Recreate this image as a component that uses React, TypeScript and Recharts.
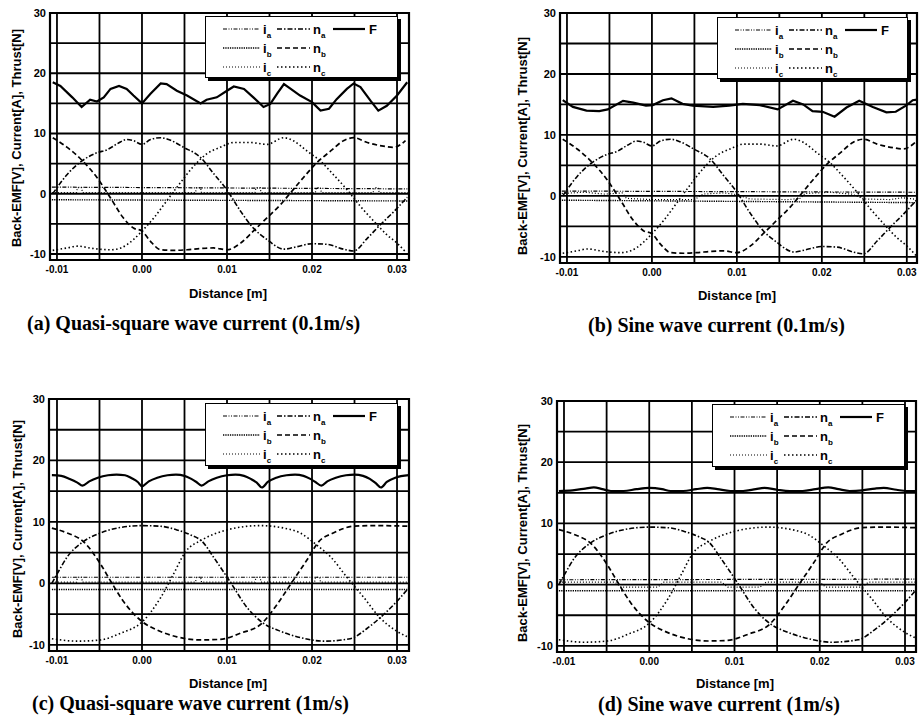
import React from 'react';
import { LineChart, Line, XAxis, YAxis, CartesianGrid, ReferenceArea } from 'recharts';

type Pt = [number, number];

const xTicks = [-0.01, -0.005, 0, 0.005, 0.01, 0.015, 0.02, 0.025, 0.03];
const yTicks = [-10, -5, 0, 5, 10, 15, 20, 25, 30];

// ---- Back-EMF at 0.1 m/s (panels a, b) ----
const naSlow: Pt[] = [[-0.0105,0],[-0.0088,3.2],[-0.0071,5.4],[-0.0053,6.8],[-0.0041,7.3],[-0.0029,8.3],[-0.0018,9.0],[-0.001,8.8],[0,8.2],[0.001,9.0],[0.0022,9.3],[0.0033,8.9],[0.0049,7.7],[0.0069,6.0],[0.0084,3.4],[0.0100,0.6],[0.0116,-2.9],[0.0131,-5.7],[0.0147,-7.6],[0.0167,-9.2],[0.0182,-8.8],[0.0200,-8.3],[0.0218,-8.4],[0.0237,-9.2],[0.0249,-9.5],[0.0265,-7.4],[0.0280,-5.2],[0.0296,-3.0],[0.0312,-0.6]];
const nbSlow: Pt[] = [[-0.0105,9.3],[-0.0088,7.7],[-0.0071,5.6],[-0.0053,2.7],[-0.0037,-0.7],[-0.0022,-4.0],[-0.001,-5.7],[0,-6.2],[0.001,-7.9],[0.0022,-9.3],[0.0037,-9.4],[0.0053,-9.3],[0.0069,-9.1],[0.0084,-9.0],[0.0100,-9.3],[0.0116,-8.2],[0.0131,-6.2],[0.0147,-4.0],[0.0163,-1.8],[0.0175,0.2],[0.0190,2.7],[0.0206,5.2],[0.0222,7.1],[0.0237,8.8],[0.0249,9.3],[0.0265,8.5],[0.0284,7.9],[0.0296,7.7],[0.0310,8.8]];
const ncSlow: Pt[] = [[-0.0105,-9.4],[-0.0088,-9.0],[-0.0076,-8.7],[-0.0057,-9.1],[-0.0037,-9.3],[-0.0025,-9.0],[-0.001,-7.6],[0,-6.2],[0.0014,-4.0],[0.0029,-1.2],[0.0045,1.8],[0.0061,4.6],[0.0076,6.6],[0.0092,7.7],[0.0108,8.5],[0.0127,8.5],[0.0147,8.2],[0.0167,9.3],[0.0178,8.8],[0.0194,7.1],[0.0210,5.4],[0.0225,3.2],[0.0241,0.7],[0.0257,-2.1],[0.0273,-4.6],[0.0288,-6.8],[0.0300,-8.2],[0.0311,-9.8]];

// ---- Back-EMF at 1 m/s (panels c, d) ----
const naFast: Pt[] = [[-0.0106,0.0],[-0.0100,1.5],[-0.0088,4.3],[-0.0069,6.8],[-0.0049,8.2],[-0.0029,9.0],[0,9.4],[0.0022,9.3],[0.0041,8.7],[0.0057,7.9],[0.0071,6.8],[0.0084,4.3],[0.0104,0.2],[0.0124,-4.0],[0.0143,-6.5],[0.0163,-7.8],[0.0186,-8.8],[0.0214,-9.4],[0.0245,-9.0],[0.0265,-7.3],[0.0284,-5.1],[0.0300,-2.9],[0.0314,-0.7]];
const nbFast: Pt[] = [[-0.0106,9.0],[-0.0088,8.2],[-0.0069,6.8],[-0.0049,3.2],[-0.0037,0.4],[-0.0022,-2.9],[0,-6.2],[0.0018,-7.6],[0.0041,-8.7],[0.0069,-9.2],[0.0092,-9.1],[0.0116,-8.1],[0.0141,-6.5],[0.0159,-3.4],[0.0175,-0.1],[0.0194,3.8],[0.0208,6.8],[0.0225,8.2],[0.0249,9.3],[0.0276,9.4],[0.0314,9.3]];
const ncFast: Pt[] = [[-0.0106,-9.0],[-0.0076,-9.4],[-0.0049,-9.2],[-0.0025,-8.1],[0,-6.3],[0.0022,-2.3],[0.0037,1.5],[0.0051,5.1],[0.0071,7.1],[0.0100,8.7],[0.0139,9.4],[0.0167,9.0],[0.0186,8.2],[0.0206,6.2],[0.0222,4.3],[0.0241,1.0],[0.0261,-2.3],[0.0280,-5.6],[0.0300,-7.8],[0.0314,-8.8]];

// ---- Thrust ----
const Fa: Pt[] = [[-0.0105,18.5],[-0.0096,17.9],[-0.0082,16.0],[-0.0071,14.4],[-0.0061,15.6],[-0.0053,15.3],[-0.0045,16.0],[-0.0037,17.4],[-0.0027,17.9],[-0.0018,17.4],[-0.001,16.3],[0,15.0],[0.001,16.6],[0.0022,18.3],[0.0029,18.2],[0.0041,17.1],[0.0053,16.3],[0.0069,15.0],[0.0076,15.6],[0.0088,16.0],[0.0100,17.1],[0.0108,17.8],[0.0120,17.4],[0.0131,16.0],[0.0143,14.4],[0.0151,14.9],[0.0159,16.6],[0.0167,18.2],[0.0175,17.4],[0.0186,16.3],[0.0200,15.2],[0.0210,13.8],[0.0220,14.1],[0.0229,15.7],[0.0241,17.4],[0.0249,18.3],[0.0257,17.7],[0.0269,15.4],[0.0278,13.8],[0.0288,14.6],[0.0300,16.3],[0.0312,18.5]];
const Fb: Pt[] = [[-0.0105,15.7],[-0.0093,14.6],[-0.0077,14.0],[-0.0062,13.9],[-0.0052,14.2],[-0.0034,15.6],[-0.0022,15.3],[-0.0007,14.8],[0.0001,14.9],[0.0013,15.7],[0.0023,16.0],[0.0036,15.1],[0.0048,14.8],[0.0072,14.6],[0.0091,14.8],[0.0107,15.1],[0.0127,14.9],[0.0148,14.2],[0.0166,15.6],[0.0178,15.0],[0.0189,13.9],[0.0201,13.8],[0.0215,13.0],[0.0229,14.5],[0.0244,15.6],[0.0260,14.6],[0.0276,13.7],[0.0287,13.8],[0.0299,14.8],[0.0307,15.7],[0.0312,15.8]];
const Fc: Pt[] = [[-0.0106,17.6],[-0.0095,17.5],[-0.0085,17.0],[-0.0076,16.4],[-0.0070,15.9],[-0.0062,16.6],[-0.0052,17.2],[-0.0040,17.6],[-0.0030,17.7],[-0.0020,17.6],[-0.0012,17.1],[-0.0005,16.5],[0,15.8],[0.0008,16.6],[0.0018,17.2],[0.0030,17.6],[0.0040,17.7],[0.0050,17.5],[0.0058,17.0],[0.0064,16.5],[0.0070,15.9],[0.0078,16.6],[0.0088,17.2],[0.0100,17.6],[0.0110,17.7],[0.0120,17.5],[0.0128,17.0],[0.0135,16.4],[0.0141,15.6],[0.0148,16.5],[0.0158,17.2],[0.0170,17.6],[0.0180,17.7],[0.0190,17.5],[0.0198,17.0],[0.0204,16.5],[0.0211,15.9],[0.0218,16.6],[0.0228,17.2],[0.0240,17.6],[0.0250,17.7],[0.0260,17.5],[0.0268,17.0],[0.0275,16.3],[0.0281,15.6],[0.0288,16.5],[0.0298,17.2],[0.0314,17.6]];
const Fd: Pt[] = [[-0.0106,15.3],[-0.0090,15.4],[-0.0075,15.7],[-0.0065,15.9],[-0.0055,15.6],[-0.0045,15.3],[-0.0030,15.3],[-0.0015,15.6],[0,15.8],[0.0015,15.6],[0.0025,15.3],[0.0040,15.3],[0.0055,15.6],[0.0068,15.8],[0.0080,15.6],[0.0095,15.3],[0.0110,15.3],[0.0125,15.6],[0.0135,15.8],[0.0150,15.5],[0.0165,15.3],[0.0180,15.3],[0.0195,15.6],[0.0210,15.9],[0.0222,15.6],[0.0235,15.3],[0.0250,15.4],[0.0265,15.7],[0.0275,15.8],[0.0290,15.5],[0.0302,15.3],[0.0314,15.3]];

// ---- Currents ----
const iaA: Pt[] = [[-0.0106,1.1],[0.004,1.0],[0.018,0.9],[0.0314,0.8]];
const ibA: Pt[] = [[-0.0106,-1.0],[0.010,-1.1],[0.0314,-1.2]];
const icA: Pt[] = [[-0.0106,0.2],[-0.0077,0.2],[-0.0076,1.0],[-0.0071,1.0],[-0.0070,0.2],[0.0063,0.2],[0.0064,1.0],[0.0069,1.0],[0.0070,0.2],[0.0133,0.2],[0.0134,1.0],[0.0139,1.0],[0.0140,0.2],[0.0204,0.2],[0.0205,1.0],[0.0210,1.0],[0.0211,0.2],[0.0272,0.2],[0.0273,1.0],[0.0278,1.0],[0.0279,0.2],[0.0314,0.2]];
const iaB: Pt[] = [[-0.0106,0.8],[0.010,0.7],[0.0314,0.6]];
const ibB: Pt[] = [[-0.0106,-0.7],[0.010,-0.9],[0.0314,-1.1]];
const icB: Pt[] = [[-0.0106,0.4],[-0.008,0.6],[-0.0055,0.3],[-0.0035,0.5],[-0.003,-0.4],[0,-0.6],[0.005,-0.6],[0.006,0.3],[0.0085,0.5],[0.010,0.2],[0.0115,-0.5],[0.016,-0.6],[0.0175,-0.4],[0.018,0.4],[0.021,0.6],[0.0235,0.3],[0.025,-0.5],[0.028,-0.6],[0.0295,-0.3],[0.0314,-0.6]];
const iaC: Pt[] = [[-0.0106,1.0],[0.0314,1.0]];
const ibC: Pt[] = [[-0.0106,-1.0],[0.0314,-1.0]];
const icC: Pt[] = [[-0.0106,0.2],[-0.0077,0.2],[-0.0076,1.0],[-0.0071,1.0],[-0.0070,0.2],[0.0063,0.2],[0.0064,1.0],[0.0069,1.0],[0.0070,0.2],[0.0133,0.2],[0.0134,1.0],[0.0139,1.0],[0.0140,0.2],[0.0203,0.2],[0.0204,1.0],[0.0209,1.0],[0.0210,0.2],[0.0314,0.2]];
const iaD: Pt[] = [[-0.0106,0.8],[0.0314,0.9]];
const ibD: Pt[] = [[-0.0106,-1.0],[0.0314,-1.0]];
const icD: Pt[] = [[-0.0106,0.4],[-0.004,0.4],[-0.0033,-0.4],[0.001,-0.4],[0.0017,0.4],[0.0085,0.4],[0.0092,-0.4],[0.013,-0.4],[0.0137,0.4],[0.020,0.4],[0.0207,-0.4],[0.025,-0.4],[0.0257,0.4],[0.0314,0.4]];

const seriesKeys = ['ia', 'ib', 'ic', 'na', 'nb', 'nc', 'F'] as const;
type Key = typeof seriesKeys[number];

const styles: Record<Key, { dash?: string; width: number }> = {
  ia: { dash: '4 1.5 1 1.5 1 1.5', width: 1.2 },
  ib: { dash: '1.3 1', width: 1.4 },
  ic: { dash: '1 2', width: 1.2 },
  na: { dash: '5 2 1.5 2', width: 1.6 },
  nb: { dash: '5 3', width: 1.7 },
  nc: { dash: '1.5 2.5', width: 1.6 },
  F: { dash: undefined, width: 2.2 },
};

const legendRows: Key[][] = [['ia', 'na', 'F'], ['ib', 'nb'], ['ic', 'nc']];
const legendText: Record<Key, [string, string]> = {
  ia: ['i', 'a'], ib: ['i', 'b'], ic: ['i', 'c'],
  na: ['n', 'a'], nb: ['n', 'b'], nc: ['n', 'c'], F: ['F', ''],
};

const panels = [
  {
    id: 'a', caption: '(a) Quasi-square wave current (0.1m/s)',
    plot: { left: 50, top: 13, width: 359, height: 247 }, xDomain: [-0.01082, 0.03141],
    capLeft: 27, capCy: 323, yLab: [16, 138], xLab: [228, 293],
    legend: { left: 205, top: 16, width: 193, height: 62 },
    series: { ia: iaA, ib: ibA, ic: icA, na: naSlow, nb: nbSlow, nc: ncSlow, F: Fa },
    fType: 'linear',
  },
  {
    id: 'b', caption: '(b) Sine wave current (0.1m/s)',
    plot: { left: 560, top: 13, width: 357, height: 250 }, xDomain: [-0.01082, 0.0312],
    capLeft: 588, capCy: 325, yLab: [522, 146], xLab: [737, 295],
    legend: { left: 717, top: 17, width: 191, height: 62 },
    series: { ia: iaB, ib: ibB, ic: icB, na: naSlow, nb: nbSlow, nc: ncSlow, F: Fb },
    fType: 'linear',
  },
  {
    id: 'c', caption: '(c) Quasi-square wave current (1m/s)',
    plot: { left: 49, top: 399, width: 360, height: 252 }, xDomain: [-0.01094, 0.03141],
    capLeft: 32, capCy: 703, yLab: [17, 529], xLab: [228, 683],
    legend: { left: 205, top: 403, width: 193, height: 63 },
    series: { ia: iaC, ib: ibC, ic: icC, na: naFast, nb: nbFast, nc: ncFast, F: Fc },
    fType: 'monotone',
  },
  {
    id: 'd', caption: '(d) Sine wave current (1m/s)',
    plot: { left: 557, top: 401, width: 359, height: 251 }, xDomain: [-0.01082, 0.03129],
    capLeft: 598, capCy: 704, yLab: [522, 533], xLab: [735, 683],
    legend: { left: 712, top: 404, width: 193, height: 63 },
    series: { ia: iaD, ib: ibD, ic: icD, na: naFast, nb: nbFast, nc: ncFast, F: Fd },
    fType: 'monotone',
  },
];

const sans = '"Liberation Sans", Arial, sans-serif';
const serif = '"Liberation Serif", "Times New Roman", serif';

const toRows = (pts: Pt[]) => pts.map(([x, y]) => ({ x, y }));

function LegendBox({ box }: { box: { left: number; top: number; width: number; height: number } }) {
  const rowsY = [13, 32, 51];
  const cols = [[18, 55, 58], [72, 105, 108], [128, 160, 164]];
  return (
    <div style={{ position: 'absolute', left: box.left, top: box.top, width: box.width, height: box.height, border: '1.5px solid #000', boxShadow: '3px 3px 0 #000', background: '#fff', boxSizing: 'border-box' }}>
      <svg width={box.width} height={box.height} style={{ position: 'absolute', left: -1.5, top: -1.5 }}>
        {legendRows.map((row, ri) => row.map((k, ci) => {
          const [x1, x2, tx] = cols[ci];
          const y = rowsY[ri];
          const [main, sub] = legendText[k];
          return (
            <g key={k}>
              <line x1={x1} x2={x2} y1={y} y2={y} stroke="#000" strokeWidth={styles[k].width} strokeDasharray={styles[k].dash} />
              <text x={tx} y={y + 4.5} fontFamily={sans} fontWeight={700} fontSize={13} fill="#000">
                {main}
                {sub ? <tspan dy={4} fontSize={8}>{sub}</tspan> : null}
              </text>
            </g>
          );
        }))}
      </svg>
    </div>
  );
}

function Panel({ p }: { p: typeof panels[number] }) {
  const { plot } = p;
  const w = plot.width + 70;
  const h = plot.height + 10 + 40;
  return (
    <>
      <div style={{ position: 'absolute', left: plot.left - 60, top: plot.top - 10 }}>
        <LineChart width={w} height={h} margin={{ top: 10, right: 10, bottom: 0, left: 0 }}>
          <CartesianGrid stroke="#000" strokeWidth={1.8} />
          <XAxis type="number" dataKey="x" domain={p.xDomain} allowDataOverflow ticks={xTicks} interval={0}
            tickFormatter={(v: number, i: number) => (i % 2 === 0 ? v.toFixed(2) : '')}
            height={40} tickSize={0} tickMargin={6} axisLine={false} tickLine={false}
            tick={{ fill: '#000', fontSize: 10, fontWeight: 700, fontFamily: sans }} />
          <YAxis type="number" domain={[-11, 30]} allowDataOverflow ticks={yTicks} interval={0}
            tickFormatter={(v: number) => (v % 10 === 0 ? String(v) : '')}
            width={60} tickSize={0} tickMargin={4} axisLine={false} tickLine={false}
            tick={{ fill: '#000', fontSize: 11, fontWeight: 700, fontFamily: sans }} />
          <ReferenceArea x1={p.xDomain[0]} x2={p.xDomain[1]} y1={-11} y2={30} fill="none" fillOpacity={0} stroke="#000" strokeWidth={2.2} ifOverflow="visible" />
          {seriesKeys.map((k) => (
            <Line key={k} data={toRows(p.series[k])} dataKey="y" name={k}
              type={k === 'F' ? (p.fType as any) : k.startsWith('n') ? 'monotone' : 'linear'}
              stroke="#000" strokeWidth={styles[k].width} strokeDasharray={styles[k].dash}
              dot={false} activeDot={false} isAnimationActive={false} />
          ))}
        </LineChart>
      </div>
      <LegendBox box={p.legend} />
      <div style={{ position: 'absolute', left: p.yLab[0], top: p.yLab[1], transform: 'translate(-50%, -50%) rotate(-90deg)', whiteSpace: 'nowrap', fontFamily: sans, fontWeight: 700, fontSize: 13, lineHeight: '13px', color: '#000' }}>
        Back-EMF[V], Current[A], Thrust[N]
      </div>
      <div style={{ position: 'absolute', left: p.xLab[0], top: p.xLab[1], transform: 'translate(-50%, -50%)', whiteSpace: 'nowrap', fontFamily: sans, fontWeight: 700, fontSize: 13, lineHeight: '13px', color: '#000' }}>
        Distance [m]
      </div>
      <div style={{ position: 'absolute', left: p.capLeft, top: p.capCy - 11, whiteSpace: 'nowrap', fontFamily: serif, fontWeight: 700, fontSize: 20, lineHeight: '22px', color: '#000' }}>
        {p.caption}
      </div>
    </>
  );
}

export default function App() {
  return (
    <div style={{ position: 'absolute', left: 0, top: 0, width: 919, height: 716, background: '#fff', overflow: 'hidden' }}>
      {panels.map((p) => <Panel key={p.id} p={p} />)}
    </div>
  );
}
